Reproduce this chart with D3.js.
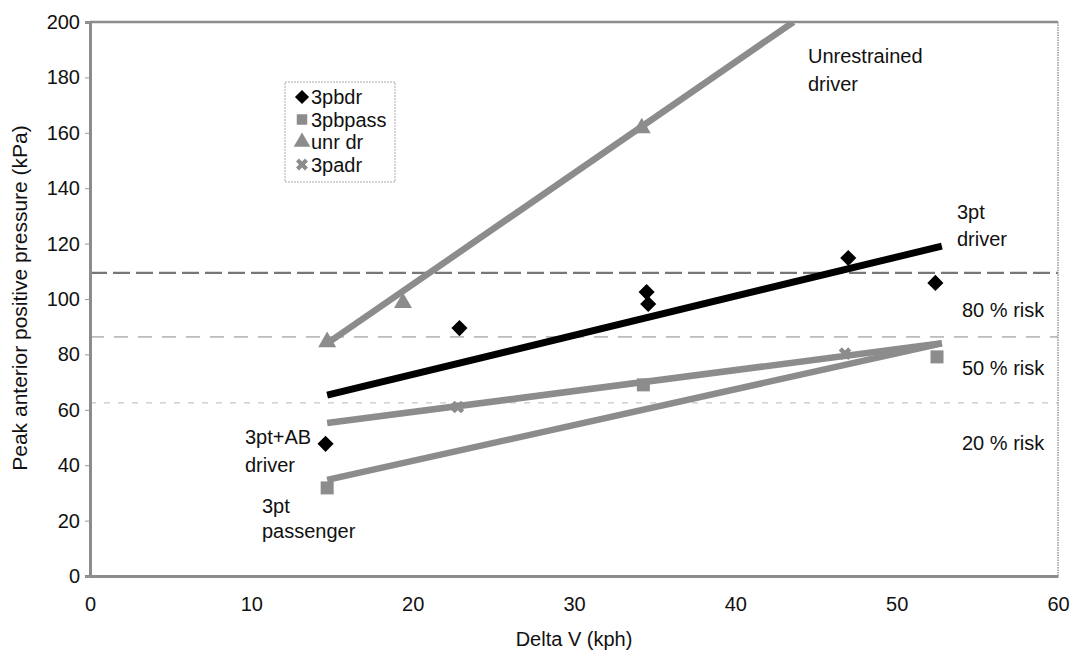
<!DOCTYPE html>
<html lang="en">
<head>
    <meta charset="UTF-8">
    <title>Peak anterior positive pressure vs Delta V</title>
    <style>
        body { margin: 0; background: #ffffff; }
        text { font-family: "Liberation Sans", Arial, sans-serif; fill: #111; }
    </style>
    <script src="https://d3js.org/d3.v7.min.js"></script>
</head>
<body>
<div id="chart"></div>
<script>
    // Series data (Delta V kph, pressure kPa)
    var pbdrPoints = [[14.6, 47.7], [22.9, 89.5], [34.5, 102.5], [34.6, 98.2], [47.0, 114.8], [52.4, 105.8]];
    var pbpassPoints = [[14.7, 31.8], [34.3, 69.0], [52.5, 79.1]];
    var unrdrPoints = [[14.7, 84.5], [19.4, 98.6], [34.2, 161.7]];
    var padrPoints = [[22.8, 61.0], [46.8, 80.3]];

    // Trend line end points
    var pbdrTrend = [[14.7, 65.3], [52.8, 119.1]];
    var pbpassTrend = [[14.7, 34.7], [52.8, 84.0]];
    var unrdrTrend = [[14.7, 84.0], [43.6, 200]];
    var padrTrend = [[14.7, 55.2], [52.8, 84.0]];

    // Risk threshold levels
    var riskLevels = [109.4, 86.3, 62.5];
    var riskLabels = ["80 % risk", "50 % risk", "20 % risk"];
    var riskLabelValues = [96, 75, 48];

    var xTicks = [0, 10, 20, 30, 40, 50, 60];
    var yTicks = [0, 20, 40, 60, 80, 100, 120, 140, 160, 180, 200];
    var legendNames = ["3pbdr", "3pbpass", "unr dr", "3padr"];

    var width = 1073, height = 656;
    var margin = {left: 90, right: 15, top: 22, bottom: 80};

    var svg = d3.select("#chart").append("svg")
        .attr("width", width).attr("height", height);

    var x = d3.scaleLinear().domain([0, 60]).range([margin.left, width - margin.right]);
    var y = d3.scaleLinear().domain([0, 200]).range([height - margin.bottom, margin.top]);

    var grey = "#8c8c8c";
    var fontSize = "20px";

    svg.append("clipPath").attr("id", "plotClip")
        .append("rect")
        .attr("x", x(0)).attr("y", y(200))
        .attr("width", x(60) - x(0)).attr("height", y(0) - y(200));

    // Risk lines
    var riskStyles = [
        {stroke: "#777", width: 2.2, dash: "17,6"},
        {stroke: "#888", width: 1, dash: "14,10"},
        {stroke: "#bbb", width: 1, dash: "6,8"}
    ];
    svg.selectAll(".risk").data(riskLevels).enter().append("line")
        .attr("class", "risk")
        .attr("x1", x(0)).attr("x2", x(60))
        .attr("y1", d => y(d)).attr("y2", d => y(d))
        .attr("stroke", (d, i) => riskStyles[i].stroke)
        .attr("stroke-width", (d, i) => riskStyles[i].width)
        .attr("stroke-dasharray", (d, i) => riskStyles[i].dash);

    // Frame round the plot area
    svg.append("line").attr("x1", x(0)).attr("x2", x(60)).attr("y1", y(200)).attr("y2", y(200))
        .attr("stroke", grey).attr("stroke-width", 2.5);
    svg.append("line").attr("x1", x(60)).attr("x2", x(60)).attr("y1", y(200)).attr("y2", y(0))
        .attr("stroke", "#999").attr("stroke-width", 1.5).attr("stroke-dasharray", "1.5,1");

    // Axes
    var yAxis = d3.axisLeft(y).tickValues(yTicks).tickSize(5).tickPadding(5);
    var gy = svg.append("g").attr("transform", "translate(" + x(0) + ",0)").call(yAxis);
    gy.select(".domain").attr("stroke", grey).attr("stroke-width", 3);
    gy.selectAll(".tick line").attr("stroke", "#999");
    gy.selectAll(".tick text").style("font-size", fontSize).attr("fill", "#111");

    var xAxis = d3.axisBottom(x).tickValues(xTicks).tickSize(0).tickPadding(21);
    var gx = svg.append("g").attr("transform", "translate(0," + y(0) + ")").call(xAxis);
    gx.select(".domain").attr("stroke", grey).attr("stroke-width", 3);
    gx.selectAll(".tick text").style("font-size", fontSize).attr("fill", "#111");

    // Trend lines
    var line = d3.line().x(d => x(d[0])).y(d => y(d[1]));
    var trends = [
        {data: unrdrTrend, color: grey, w: 6.5},
        {data: padrTrend, color: grey, w: 6.5},
        {data: pbpassTrend, color: grey, w: 6.5},
        {data: pbdrTrend, color: "#000", w: 7}
    ];
    svg.append("g").attr("clip-path", "url(#plotClip)")
        .selectAll("path").data(trends).enter().append("path")
        .attr("d", d => line(d.data))
        .attr("fill", "none")
        .attr("stroke", d => d.color)
        .attr("stroke-width", d => d.w);

    // Markers
    var diamond = d3.symbol().type(d3.symbolSquare).size(130);
    svg.selectAll(".pbdr").data(pbdrPoints).enter().append("path")
        .attr("class", "pbdr")
        .attr("d", diamond)
        .attr("transform", d => "translate(" + x(d[0]) + "," + y(d[1]) + ") rotate(45)")
        .attr("fill", "#000");

    svg.selectAll(".pbpass").data(pbpassPoints).enter().append("rect")
        .attr("class", "pbpass")
        .attr("x", d => x(d[0]) - 6.5).attr("y", d => y(d[1]) - 6.5)
        .attr("width", 13).attr("height", 13)
        .attr("fill", grey);

    var triangle = d3.symbol().type(d3.symbolTriangle).size(140);
    svg.selectAll(".unrdr").data(unrdrPoints).enter().append("path")
        .attr("class", "unrdr")
        .attr("d", triangle)
        .attr("transform", d => "translate(" + x(d[0]) + "," + y(d[1]) + ")")
        .attr("fill", grey);

    var cross = d3.symbol().type(d3.symbolCross).size(100);
    svg.selectAll(".padr").data(padrPoints).enter().append("path")
        .attr("class", "padr")
        .attr("d", cross)
        .attr("transform", d => "translate(" + x(d[0]) + "," + y(d[1]) + ") rotate(45)")
        .attr("fill", grey);

    // Legend
    var legend = svg.append("g").attr("transform", "translate(285,82)");
    legend.append("rect").attr("width", 110).attr("height", 100)
        .attr("fill", "#fff").attr("stroke", "#aaa").attr("stroke-width", 1)
        .attr("stroke-dasharray", "2,1");
    var legendRows = legend.selectAll(".row").data(legendNames).enter().append("g")
        .attr("class", "row")
        .attr("transform", (d, i) => "translate(17," + (15 + i * 22.5) + ")");
    legendRows.append("path")
        .attr("d", (d, i) => [
            d3.symbol().type(d3.symbolSquare).size(100)(),
            d3.symbol().type(d3.symbolSquare).size(110)(),
            d3.symbol().type(d3.symbolTriangle).size(120)(),
            d3.symbol().type(d3.symbolCross).size(90)()
        ][i])
        .attr("transform", (d, i) => (i === 0 || i === 3) ? "rotate(45)" : null)
        .attr("fill", (d, i) => i === 0 ? "#000" : grey);
    legendRows.append("text")
        .attr("x", 9).attr("y", 7)
        .style("font-size", fontSize)
        .text(d => d);

    // Annotations
    var notes = [
        {x: 808, y: 63, t: "Unrestrained"}, {x: 808, y: 91, t: "driver"},
        {x: 957, y: 219, t: "3pt"}, {x: 957, y: 246, t: "driver"},
        {x: 245, y: 444, t: "3pt+AB"}, {x: 245, y: 472, t: "driver"},
        {x: 262, y: 513, t: "3pt"}, {x: 262, y: 538, t: "passenger"}
    ];
    svg.selectAll(".note").data(notes).enter().append("text")
        .attr("class", "note")
        .attr("x", d => d.x).attr("y", d => d.y)
        .style("font-size", fontSize)
        .text(d => d.t);

    svg.selectAll(".risklabel").data(riskLabels).enter().append("text")
        .attr("class", "risklabel")
        .attr("x", 962)
        .attr("y", (d, i) => y(riskLabelValues[i]) + 7)
        .style("font-size", fontSize)
        .text(d => d);

    // Axis titles
    svg.append("text")
        .attr("x", (x(0) + x(60)) / 2).attr("y", 646)
        .attr("text-anchor", "middle")
        .style("font-size", fontSize)
        .text("Delta V (kph)");
    svg.append("text")
        .attr("transform", "translate(27," + 298 + ") rotate(-90)")
        .attr("text-anchor", "middle")
        .style("font-size", "21px")
        .text("Peak anterior positive pressure (kPa)");
</script>
</body>
</html>
